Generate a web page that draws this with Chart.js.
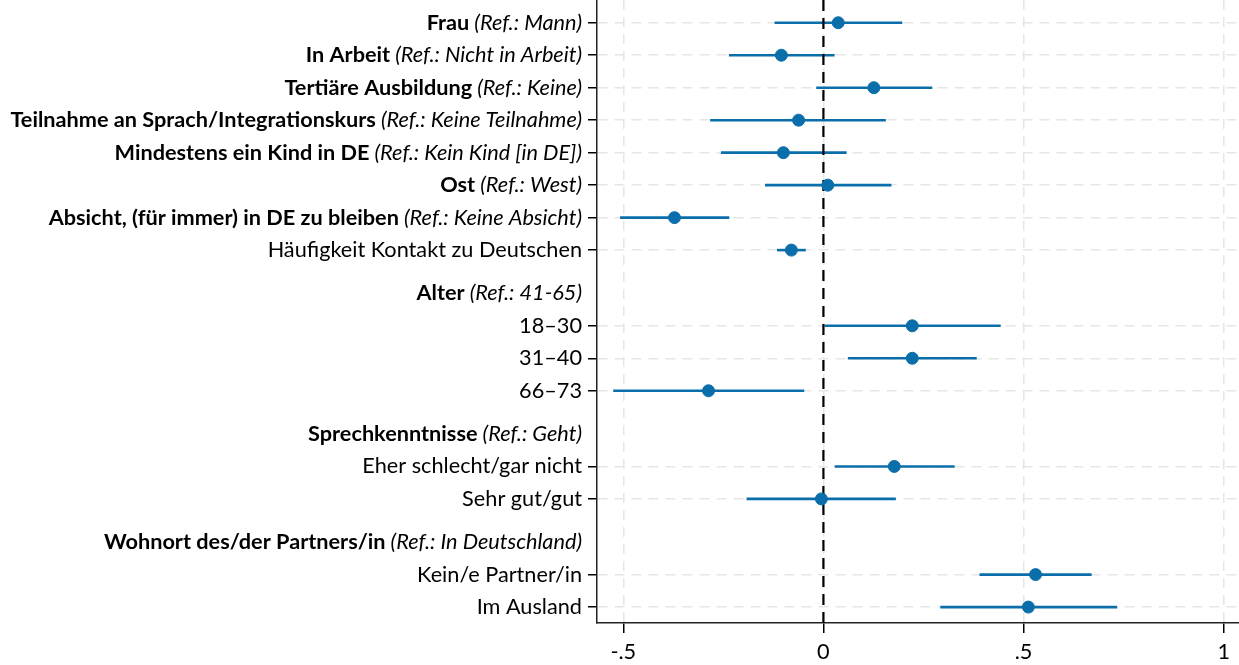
<!DOCTYPE html>
<html>
<head>
<meta charset="utf-8">
<script src="https://cdn.jsdelivr.net/npm/chart.js@4.4.0/dist/chart.umd.min.js"></script>
<style>
  html, body { margin: 0; padding: 0; background: #fff; }
  #wrap { width: 1239px; height: 665px; position: relative; }
</style>
</head>
<body>
<div id="wrap"><canvas id="coefChart"></canvas></div>
<script>
// Zeilen mit Schätzern
const itemLabels = [
    'Frau', 'In Arbeit', 'Tertiäre Ausbildung', 'Teilnahme an Sprach/Integrationskurs',
    'Mindestens ein Kind in DE', 'Ost', 'Absicht, (für immer) in DE zu bleiben',
    'Häufigkeit Kontakt zu Deutschen', '18–30', '31–40', '66–73',
    'Eher schlecht/gar nicht', 'Sehr gut/gut', 'Kein/e Partner/in', 'Im Ausland'
];
const itemRefs = [
    '(Ref.: Mann)', '(Ref.: Nicht in Arbeit)', '(Ref.: Keine)', '(Ref.: Keine Teilnahme)',
    '(Ref.: Kein Kind [in DE])', '(Ref.: West)', '(Ref.: Keine Absicht)',
    '', '', '', '', '', '', '', ''
];
const itemPos = [0, 1, 2, 3, 4, 5, 6, 7, 9.33, 10.33, 11.33, 13.66, 14.66, 16.99, 17.99];
const estimates = [0.037, -0.105, 0.126, -0.062, -0.100, 0.011, -0.372, -0.080,
                   0.222, 0.222, -0.287, 0.177, -0.005, 0.530, 0.512];
const ciLow  = [-0.122, -0.236, -0.018, -0.283, -0.256, -0.146, -0.508, -0.116,
                 0.003, 0.061, -0.525, 0.028, -0.192, 0.390, 0.292];
const ciHigh = [0.197, 0.028, 0.272, 0.156, 0.058, 0.170, -0.235, -0.044,
                0.443, 0.383, -0.048, 0.328, 0.181, 0.670, 0.734];

// Gruppenüberschriften
const headerLabels = ['Alter', 'Sprechkenntnisse', 'Wohnort des/der Partners/in'];
const headerRefs = ['(Ref.: 41-65)', '(Ref.: Geht)', '(Ref.: In Deutschland)'];
const headerPos = [8.33, 12.66, 15.99];

const xTickValues = [-0.5, 0, 0.5, 1];
const xTickLabels = ['-.5', '0', '.5', '1'];

const blue = '#0a6eaa';
const FONT = 'Lato, "Liberation Sans", sans-serif';
const FONT_SIZE = 21.7;

const ciDatasets = itemPos.map((pos, i) => ({
    type: 'line',
    data: [{ x: ciLow[i], y: pos }, { x: ciHigh[i], y: pos }],
    borderColor: blue,
    borderWidth: 2.6,
    pointRadius: 0,
    order: 3
}));

// Beschriftungen links, mit fettem und kursivem Teil
const rowLabelPlugin = {
    id: 'rowLabels',
    afterDraw(chart) {
        const ctx = chart.ctx;
        const yScale = chart.scales.y;
        const xr = chart.chartArea.left - 15;
        const drawRow = (main, ref, pos, bold) => {
            const y = yScale.getPixelForValue(pos);
            ctx.save();
            ctx.fillStyle = '#000';
            ctx.textBaseline = 'middle';
            ctx.textAlign = 'right';
            let x = xr;
            if (ref) {
                ctx.font = `italic ${FONT_SIZE}px ${FONT}`;
                ctx.fillText(ref, x, y);
                x -= ctx.measureText(ref).width + ctx.measureText(' ').width;
            }
            ctx.font = `${bold ? 'bold ' : ''}${FONT_SIZE}px ${FONT}`;
            ctx.fillText(main, x, y);
            ctx.restore();
        };
        itemLabels.forEach((lab, i) => drawRow(lab, itemRefs[i], itemPos[i], itemRefs[i] !== ''));
        headerLabels.forEach((lab, i) => drawRow(lab, headerRefs[i], headerPos[i], true));
    }
};

new Chart(document.getElementById('coefChart'), {
    type: 'scatter',
    data: {
        datasets: [
            {
                type: 'scatter',
                data: itemPos.map((pos, i) => ({ x: estimates[i], y: pos })),
                backgroundColor: blue,
                borderColor: blue,
                pointRadius: 6,
                pointHoverRadius: 6,
                order: 1
            },
            {
                type: 'line',
                data: [{ x: 0, y: -0.7 }, { x: 0, y: 18.48 }],
                borderColor: '#000',
                borderWidth: 2.2,
                borderDash: [11, 7],
                pointRadius: 0,
                order: 2
            },
            ...ciDatasets
        ]
    },
    options: {
        responsive: true,
        maintainAspectRatio: false,
        animation: false,
        layout: { padding: 0, autoPadding: false },
        plugins: {
            legend: { display: false },
            tooltip: { enabled: false }
        },
        scales: {
            x: {
                type: 'linear',
                min: -0.5656,
                max: 1.0382,
                afterBuildTicks: axis => { axis.ticks = xTickValues.map(v => ({ value: v })); },
                afterFit: axis => {
                    axis.height = 42;
                    axis.paddingLeft = 0;
                    axis.paddingRight = 0;
                },
                ticks: {
                    callback: (v) => xTickLabels[xTickValues.indexOf(v)],
                    color: '#000',
                    font: { family: FONT, size: FONT_SIZE },
                    padding: 6,
                    maxRotation: 0,
                    autoSkip: false
                },
                grid: {
                    color: '#e6e6e6',
                    lineWidth: 1.5,
                    tickColor: '#000',
                    tickLength: 10,
                    tickWidth: 1.5,
                    tickBorderDash: []
                },
                border: { display: true, color: '#222', width: 1.5, dash: [10, 7] }
            },
            y: {
                type: 'linear',
                reverse: true,
                min: -0.7,
                max: 18.48,
                afterBuildTicks: axis => { axis.ticks = itemPos.map(v => ({ value: v })); },
                afterFit: axis => {
                    axis.width = 597;
                    axis.paddingTop = 0;
                    axis.paddingBottom = 0;
                },
                ticks: { display: false },
                grid: {
                    color: '#e6e6e6',
                    lineWidth: 1.5,
                    tickColor: '#000',
                    tickLength: 9,
                    tickWidth: 1.5,
                    tickBorderDash: []
                },
                border: { display: true, color: '#222', width: 1.5, dash: [10, 7] }
            }
        }
    },
    plugins: [rowLabelPlugin]
});
</script>
</body>
</html>
